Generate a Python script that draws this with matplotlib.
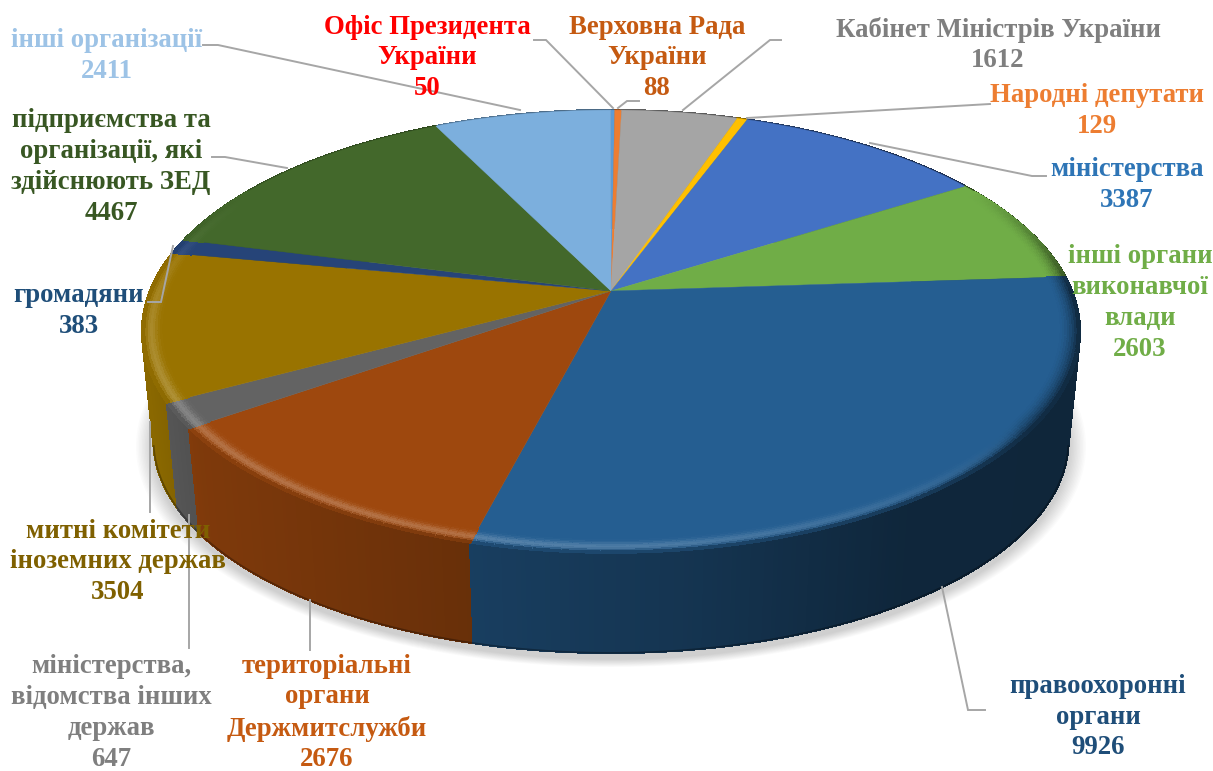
import numpy as np
import matplotlib
matplotlib.use("Agg")
import matplotlib.pyplot as plt
from matplotlib.collections import PolyCollection
from matplotlib.colors import to_rgb

plt.rcParams['font.family'] = ['Liberation Serif', 'DejaVu Serif']

# Labelled values, clockwise from the top
names = ['Офіс Президента\nУкраїни', 'Верховна Рада\nУкраїни', 'Кабінет Міністрів України',
         'Народні депутати', 'міністерства', 'інші органи\nвиконавчої\nвлади',
         'правоохоронні\nоргани', 'територіальні\nоргани\nДержмитслужби',
         'міністерства,\nвідомства інших\nдержав', 'митні комітети\nіноземних держав',
         'громадяни', 'підприємства та\nорганізації, які\nздійснюють ЗЕД', 'інші організації']
values = [50, 88, 1612, 129, 3387, 2603, 9926, 2676, 647, 3504, 383, 4467, 2411]

# Slice sizes as drawn in the picture (degrees), they differ a bit from the labels
slice_degrees = [0.56, 1.0, 17.2, 1.5, 37.3, 28.6, 108.4, 40.4, 6.6, 39.0, 3.9, 49.3, 26.2]

slice_colors = ['#5B9BD5', '#ED7D31', '#A5A5A5', '#FFC000', '#4472C4', '#70AD47', '#255E91',
                '#9E480E', '#636363', '#997300', '#264478', '#43682B', '#7CAFDD']
text_colors = ['#FF0000', '#C55A11', '#7F7F7F', '#ED7D31', '#2E75B6', '#70AD47', '#1F4E79',
               '#C55A11', '#7F7F7F', '#7F6000', '#1F4E79', '#385723', '#9DC3E6']

# Label centres in pixels
label_x = [427, 657, 998, 1097, 1127, 1140, 1098, 327, 111, 118, 79, 111, 107]
label_y = [58, 58, 45, 111, 185, 303, 717, 713, 713, 562, 311, 167, 56]

# Leader lines
leaders = [
    [(534, 40), (546, 40), (613, 108)],
    [(639, 101), (627, 101), (618, 108)],
    [(781, 40), (770, 40), (683, 110)],
    [(747, 118), (990, 104)],
    [(870, 143), (1032, 176), (1046, 176)],
    [(942, 587), (968, 710), (985, 710)],
    [(310, 600), (310, 650)],
    [(189, 515), (189, 648)],
    [(150, 422), (150, 512)],
    [(173, 246), (161, 302), (148, 302)],
    [(212, 157), (225, 157), (287, 168)],
    [(203, 45), (218, 45), (520, 110)],
]

# Perspective disc: apex position and projection factors
cx, apex_y = 611, 291
A, B, k = 461, 214, 0.183


def disc(theta, r=1.0):
    t = np.radians(theta)
    u = r * np.sin(t)
    v = r * np.cos(t)
    w = 1 + k * v
    return cx + A * u / w, apex_y - B * v / w


def base(theta):
    x, y = disc(theta)
    return cx + (x - cx) * 457.5 / 469, 440 + (y - 331) * 212 / 221


def wall_factor(x):
    return np.interp(x, [150, 200, 470, 700, 900, 1080], [0.9, 0.8, 0.66, 0.55, 0.41, 0.4])


fig = plt.figure(figsize=(12.13, 7.71), dpi=100)
ax = fig.add_axes([0, 0, 1, 1])
ax.set_xlim(0, 1213)
ax.set_ylim(771, 0)
ax.axis('off')

ends = np.cumsum(slice_degrees)
starts = ends - np.array(slice_degrees)

# Soft shadow under the pie
all_t = np.linspace(0, 360, 361)
bx, by = base(all_t)
for i in range(12):
    s = 1 + 0.0032 * (i + 1)
    ax.fill(cx + (bx - cx) * s, 446 + (by - 440) * s, color='black', alpha=0.014, lw=0, zorder=1)

# Side wall
quads, quad_colors, quad_v = [], [], []
for a, b, col in zip(starts, ends, slice_colors):
    c = np.array(to_rgb(col))
    th = np.arange(a, b + 0.5, 0.5)
    th[-1] = b
    for t0, t1 in zip(th[:-1], th[1:]):
        x0, y0 = disc(t0)
        x1, y1 = disc(t1)
        x2, y2 = base(t1)
        x3, y3 = base(t0)
        quads.append([(x0, y0), (x1, y1), (x2, y2), (x3, y3)])
        quad_colors.append(c * wall_factor((x0 + x1) / 2))
        quad_v.append(np.cos(np.radians((t0 + t1) / 2)))
order = np.argsort(quad_v)[::-1]
ax.add_collection(PolyCollection([quads[i] for i in order], facecolors=[quad_colors[i] for i in order],
                                 edgecolors='face', linewidths=1.0, antialiaseds=False, zorder=2))
front = np.linspace(102, 258, 200)
fx, fy = base(front)
ax.plot(fx, fy, color='black', alpha=0.3, lw=1.2, zorder=3)

# Top of the pie
for a, b, col in zip(starts, ends, slice_colors):
    th = np.linspace(a, b, max(int((b - a) * 2), 2) + 1)
    x, y = disc(th)
    ax.fill(np.r_[cx, x], np.r_[apex_y, y], color=col, lw=0.3, zorder=4)

# Bevel along the rim: light towards the front left, fading into the wall
radii = np.linspace(0.955, 1.0, 10)
quads, quad_colors = [], []
for a, b, col in zip(starts, ends, slice_colors):
    c = np.array(to_rgb(col))
    th = np.arange(a, b + 1, 1.0)
    th[-1] = b
    for t0, t1 in zip(th[:-1], th[1:]):
        mid = (t0 + t1) / 2
        fade = np.clip((0.5 - np.cos(np.radians(mid))) / 0.5, 0, 1)
        if fade == 0:
            continue
        light = 0.24 * np.cos(np.radians(mid - 215))
        xm, _ = disc(mid)
        wall = c * wall_factor(xm)
        power = 2 + 6 * np.clip(light / 0.1, 0, 1)
        for r0, r1 in zip(radii[:-1], radii[1:]):
            t = ((r0 + r1) / 2 - radii[0]) / (radii[-1] - radii[0])
            shade = c + (max(light, 0) * (1 - c)) * np.sin(np.pi * t ** 1.5) ** 2 * fade
            mix = t ** power * fade
            shade = shade * (1 - mix) + wall * mix
            p0, p1 = disc(t0, r0), disc(t1, r0)
            p2, p3 = disc(t1, r1), disc(t0, r1)
            quads.append([p0, p1, p2, p3])
            quad_colors.append(np.clip(shade, 0, 1))
ax.add_collection(PolyCollection(quads, facecolors=quad_colors, edgecolors='face', linewidths=0.6,
                                 antialiaseds=False, zorder=5))

# Leader lines
for pts in leaders:
    xs, ys = zip(*pts)
    ax.plot(xs, ys, color='#A6A6A6', lw=1.4, zorder=6, solid_joinstyle='miter')

# Labels
for name, val, x, y, col in zip(names, values, label_x, label_y, text_colors):
    ax.text(x, y, f"{name}\n{val}", ha='center', va='center', color=col, fontsize=19.3,
            fontweight='bold', linespacing=1.31, zorder=7)

fig.savefig('out.png', dpi=100)
